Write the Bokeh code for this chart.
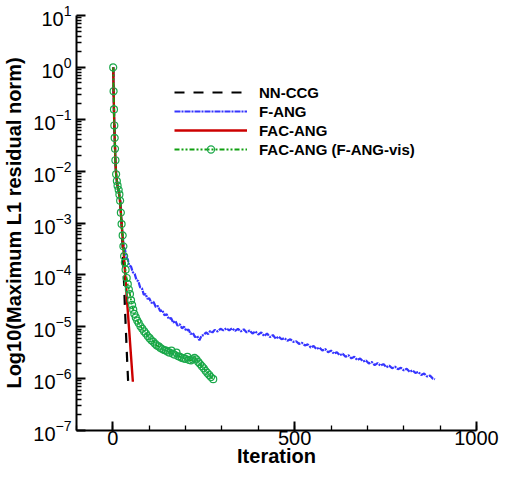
import numpy as np
from bokeh.plotting import figure
from bokeh.models import (Range1d, FixedTicker, SingleIntervalTicker, LogTickFormatter,
                          Legend, LegendItem)
from bokeh.embed import file_html
from bokeh.resources import INLINE

# ---- data (iteration, log10 of residual) ----
nn_iter = [1, 2, 3, 4, 5, 6, 7, 9, 11, 14, 16, 20, 22, 24, 27, 30, 33, 36, 39, 42]
nn_log = [0.0, -0.46, -0.81, -1.12, -1.36, -1.57, -1.79, -2.06, -2.19, -2.32, -2.38,
          -2.57, -2.80, -3.00, -3.50, -4.00, -4.60, -5.10, -5.60, -6.06]

red_iter = [1, 2, 3, 4, 5, 6, 7, 9, 11, 14, 17, 20, 25, 30, 35, 40, 45, 50, 55]
red_log = [0.0, -0.46, -0.81, -1.12, -1.36, -1.57, -1.79, -2.06, -2.19, -2.32, -2.42,
           -2.60, -3.10, -3.60, -4.10, -4.60, -5.08, -5.57, -6.06]

blue_iter = [1, 2, 3, 4, 5, 6, 7, 9, 11, 14, 16, 20, 22, 24, 27, 29, 31,
             33, 37, 41, 45, 50, 55, 60, 65, 70, 75, 80, 85, 90, 95, 100, 106, 112, 118,
             124, 130, 136, 142, 148, 154, 160, 166, 172, 178, 184, 190, 196, 202, 208,
             214, 220, 226, 232, 238, 244, 250, 256, 262, 268, 274, 280, 288, 296, 304,
             312, 320, 328, 336, 344, 352, 360, 368, 376, 384, 392, 400, 408, 416, 424,
             432, 440, 448, 456, 464, 472, 480, 488, 496, 504, 512, 520, 528, 536, 544,
             552, 560, 568, 576, 584, 592, 600, 608, 616, 624, 632, 640, 648, 656, 664,
             672, 680, 688, 696, 704, 712, 720, 728, 736, 744, 752, 760, 768, 776, 784,
             792, 800, 808, 816, 824, 832, 840, 848, 856, 864, 872, 880, 886]
blue_log = [0.0, -0.46, -0.81, -1.12, -1.36, -1.57, -1.79, -2.06, -2.19, -2.32, -2.38,
            -2.57, -2.80, -3.02, -3.24, -3.40, -3.48,
            -3.50, -3.66, -3.70, -3.82, -3.84, -3.95, -3.98, -4.10, -4.12, -4.24, -4.26,
            -4.38, -4.37, -4.46, -4.45, -4.54, -4.52, -4.62, -4.60, -4.70, -4.68, -4.78,
            -4.76, -4.85, -4.83, -4.92, -4.89, -4.98, -4.95, -5.03, -5.00, -5.08, -5.05,
            -5.14, -5.12, -5.20, -5.18, -5.26, -5.17, -5.16, -5.11, -5.14, -5.08, -5.11,
            -5.06, -5.09, -5.04, -5.07, -5.03, -5.07, -5.03, -5.08, -5.04, -5.09, -5.05,
            -5.11, -5.07, -5.13, -5.09, -5.15, -5.11, -5.18, -5.13, -5.20, -5.16, -5.23,
            -5.19, -5.24, -5.22, -5.27, -5.24, -5.29, -5.28, -5.33, -5.31, -5.36, -5.34,
            -5.40, -5.37, -5.43, -5.40, -5.46, -5.43, -5.49, -5.46, -5.52, -5.49, -5.55,
            -5.52, -5.58, -5.55, -5.61, -5.58, -5.64, -5.61, -5.67, -5.65, -5.71, -5.68,
            -5.74, -5.70, -5.75, -5.72, -5.78, -5.75, -5.80, -5.77, -5.82, -5.79, -5.84,
            -5.81, -5.87, -5.84, -5.89, -5.87, -5.93, -5.90, -5.96, -5.94, -6.00, -6.01]

green_iter = [1, 2, 3, 4, 5, 6, 7, 9, 11, 13, 16, 18, 20, 22, 24, 27, 29, 31, 33, 35,
              38, 41, 44, 47, 50, 53, 56, 59, 63, 67, 71, 76, 81, 86, 91, 96, 101, 106,
              111, 116, 121, 126, 131, 136, 141, 146, 151, 156, 161, 165, 170, 175, 180,
              185, 190, 195, 200, 205, 210, 215, 220, 225, 230, 235, 240, 245, 250, 255,
              260, 265, 270, 276]
green_log = [0.0, -0.46, -0.81, -1.12, -1.36, -1.57, -1.79, -2.06, -2.19, -2.28, -2.36,
             -2.45, -2.57, -2.80, -3.02, -3.24, -3.45, -3.64, -3.76, -3.90, -4.06, -4.18,
             -4.28, -4.37, -4.49, -4.58, -4.67, -4.75, -4.82, -4.88, -4.93, -4.99, -5.04,
             -5.09, -5.13, -5.18, -5.22, -5.26, -5.29, -5.33, -5.36, -5.38, -5.41, -5.43,
             -5.45, -5.46, -5.48, -5.50, -5.46, -5.52, -5.54, -5.50, -5.57, -5.58, -5.60,
             -5.61, -5.62, -5.58, -5.64, -5.65, -5.63, -5.60, -5.63, -5.68, -5.72, -5.76,
             -5.80, -5.85, -5.89, -5.93, -5.97, -6.01]

series_names = ["NN-CCG", "F-ANG", "FAC-ANG", "FAC-ANG (F-ANG-vis)"]
x_title = "Iteration"
y_title = "Log10(Maximum L1 residual norm)"

y_major = [10.0 ** e for e in range(-7, 2)]
y_minor = [m * 10.0 ** e for e in range(-7, 1) for m in range(2, 10)]

FONT = "Liberation Sans"

p = figure(width=504, height=469, x_range=Range1d(-100, 1000), y_range=Range1d(1e-7, 10),
           y_axis_type="log", output_backend="svg", toolbar_location=None,
           min_border_left=69, min_border_right=28, min_border_top=15, min_border_bottom=0)
p.outline_line_color = None
p.xgrid.visible = False
p.ygrid.visible = False
p.background_fill_color = "white"

r_nn = p.line(nn_iter, 10.0 ** np.array(nn_log), line_color="black", line_width=2.2,
              line_dash="10 9")
r_blue = p.line(blue_iter, 10.0 ** np.array(blue_log), line_color="#3535ff", line_width=2.2,
                line_dash="6 1 2 1")
r_red = p.line(red_iter, 10.0 ** np.array(red_log), line_color="#cc0000", line_width=2.4)
r_green = p.line(green_iter, 10.0 ** np.array(green_log), line_color="#10a010", line_width=1.8,
                 line_dash="5 2 2 2 2 2")
r_gc = p.scatter(green_iter, 10.0 ** np.array(green_log), marker="circle", size=7,
                 fill_color=None, line_color="#1aa84a", line_width=1.2)

# axes
xa = p.xaxis[0]
xa.ticker = SingleIntervalTicker(interval=500, num_minor_ticks=5)
ya = p.yaxis[0]
ya.ticker = FixedTicker(ticks=y_major, minor_ticks=y_minor)
ya.formatter = LogTickFormatter()

for ax in (xa, ya):
    ax.axis_line_width = 2
    ax.axis_line_color = "black"
    ax.major_tick_in = 9
    ax.major_tick_out = 0
    ax.minor_tick_in = 5
    ax.minor_tick_out = 0
    ax.major_tick_line_width = 2
    ax.minor_tick_line_width = 1.3
    ax.major_label_text_font = FONT
    ax.major_label_text_font_size = "20px"
    ax.major_label_text_color = "black"
    ax.axis_label_text_font = FONT
    ax.axis_label_text_font_size = "20px"
    ax.axis_label_text_font_style = "bold"
    ax.axis_label_text_color = "black"

xa.axis_label = x_title
ya.axis_label = y_title
xa.major_label_standoff = 0
xa.axis_label_standoff = -3
ya.major_label_standoff = 5
ya.axis_label_standoff = 5

legend = Legend(items=[
    LegendItem(label=series_names[0], renderers=[r_nn]),
    LegendItem(label=series_names[1], renderers=[r_blue]),
    LegendItem(label=series_names[2], renderers=[r_red]),
    LegendItem(label=series_names[3], renderers=[r_green, r_gc]),
], location=(98, 272))
legend.label_text_font = FONT
legend.label_text_font_size = "15px"
legend.label_text_font_style = "bold"
legend.label_text_color = "black"
legend.glyph_width = 73
legend.glyph_height = 18
legend.label_height = 18
legend.label_standoff = 12
legend.spacing = 1
legend.padding = 0
legend.margin = 0
legend.border_line_color = None
legend.background_fill_alpha = 0
p.add_layout(legend, "center")

open("out.html", "w").write(file_html(p, INLINE))
